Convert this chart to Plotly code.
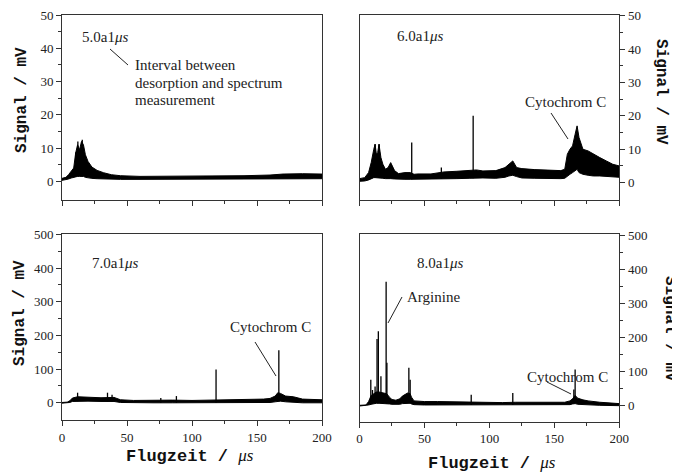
import numpy as np
import plotly.graph_objects as go

# page body has an 8px margin, so the figure is drawn 8px in from the window corner
OFF = 8
W, H = 680 - OFF, 476 - OFF

# ---------------- data ----------------
# Panel A: 5.0 µs delay (mV)
a_x = [0, 3, 5, 7, 9, 10.5, 12, 13.5, 15, 16.5, 18, 20, 23, 27, 32, 38, 45, 60, 80, 100, 120, 140, 160, 170, 185, 200]
a_up = [0.9, 1.2, 2, 3, 4, 8.5, 11, 9.5, 12, 11, 8, 6, 4.3, 3.3, 2.6, 2, 1.7, 1.5, 1.5, 1.5, 1.6, 1.7, 1.9, 2.2, 2.3, 2.2]
a_lo = [0.3, 0.5, 0.7, 1, 1.2, 1.5, 1.5, 1.5, 1.5, 1.5, 1.2, 1, 0.9, 0.8, 0.7, 0.6, 0.6, 0.6, 0.6, 0.6, 0.6, 0.7, 0.7, 0.8, 0.8, 0.8]
a_spk_x = [10.5, 12.2, 15.6]
a_spk_y = [8.7, 12, 12.5]

# Panel B: 6.0 µs delay (mV)
b_x = [0, 4, 7, 9, 11, 12, 13, 14, 15, 16.5, 18, 20, 22, 24, 27, 30, 35, 39, 42, 45, 55, 65, 75, 85, 90, 95,
       105, 112, 115, 118, 121, 125, 135, 145, 155, 158, 160, 162, 164, 166, 167.5, 169, 172, 176, 180, 185, 190, 195, 200]
b_up = [1.2, 1.5, 3, 6, 10, 11.5, 8.5, 9, 11.5, 7.5, 5.5, 4, 4.5, 6, 3.6, 2.7, 3, 3, 2.5, 2.6, 2.6, 3.2, 3.4, 3.8, 3.8, 3.5,
        3.6, 4.5, 5.5, 6.5, 4.5, 4.2, 3.9, 3.7, 3.6, 4, 8.5, 10, 11, 14.5, 17, 13.5, 10, 9.5, 8.5, 7.5, 6.5, 5.5, 5]
b_lo = [0.4, 0.5, 0.8, 1.2, 1.5, 1.5, 1.5, 1.5, 1.5, 1.5, 1.3, 1.2, 1.1, 1.2, 1.1, 1, 1, 1, 1, 1, 1, 1.1, 1.2, 1.3, 1.4, 1.4,
        1.3, 1.6, 2, 2.2, 1.8, 1.4, 1.3, 1.2, 1.2, 1.3, 2, 2.5, 3, 3.5, 4, 3, 2.5, 2.2, 2, 2, 1.8, 1.7, 1.6]
b_spk_x = [12.0, 15.2, 40.2, 63, 87.5]
b_spk_y = [11.5, 11.5, 12, 4.5, 20]

# Panel C: 7.0 µs delay (mV)
c_x = [0, 4, 6, 8, 12, 20, 30, 40, 45, 55, 70, 85, 100, 115, 125, 140, 155, 160, 164, 166, 168, 172, 178, 185, 200]
c_up = [1, 2, 6, 14, 18, 17, 15, 16, 9, 7, 8, 8, 7, 8, 8, 9, 11, 13, 20, 30, 28, 20, 18, 11, 9]
c_lo = [-1, 0, 1, 4, 5, 5, 4, 4, 1, 0, 0, 0, 0, 0, 0, 0, 0, 1, 3, 5, 5, 3, 2, 0, 0]
c_spk_x = [12, 35, 38.5, 76, 88, 118.5, 166.8]
c_spk_y = [30, 30, 24, 14, 20, 99, 156]

# Panel D: 8.0 µs delay (mV)
d_x = [0, 5, 7, 9, 11, 13, 15, 17, 19, 21, 23, 25, 28, 31, 33, 35, 37, 39, 40, 42, 50, 60, 70, 80, 90, 100,
       110, 120, 130, 140, 150, 158, 162, 164, 166, 168, 172, 176, 185, 200]
d_up = [1, 2, 12, 30, 35, 40, 40, 38, 37, 35, 25, 18, 16, 20, 28, 32, 37, 35, 25, 14, 12, 12, 11, 11, 10, 10,
        9, 10, 10, 10, 9, 10, 14, 20, 30, 22, 17, 14, 10, 6]
d_lo = [-1, 0, 2, 4, 6, 7, 7, 7, 6, 6, 5, 4, 3, 4, 6, 7, 8, 7, 5, 3, 2, 2, 2, 2, 2, 2,
        2, 2, 2, 2, 2, 2, 3, 5, 6, 4, 3, 2, 1, 0]
d_spk_x = [8.7, 10, 12, 13.5, 14.5, 16.5, 18, 20.5, 21.1, 38, 39, 86, 118, 165, 166]
d_spk_y = [76, 46, 56, 195, 218, 86, 37, 363, 126, 111, 76, 32, 37, 47, 106]

x_ticks = [0, 50, 100, 150, 200]
y_ticks_top = [0, 10, 20, 30, 40, 50]
y_ticks_bot = [0, 100, 200, 300, 400, 500]

# ---------------- figure ----------------
fig = go.Figure()

def px_x(p):
    return (p - OFF) / W

def px_y(p):
    return 1 - (p - OFF) / H

panels = [
    (a_x, a_up, a_lo, a_spk_x, a_spk_y, "x", "y"),
    (b_x, b_up, b_lo, b_spk_x, b_spk_y, "x2", "y2"),
    (c_x, c_up, c_lo, c_spk_x, c_spk_y, "x3", "y3"),
    (d_x, d_up, d_lo, d_spk_x, d_spk_y, "x4", "y4"),
]

for xs, up, lo, sx, sy, xa, ya in panels:
    fig.add_trace(go.Scatter(x=xs, y=lo, mode="lines", line=dict(color="black", width=1),
                             xaxis=xa, yaxis=ya, showlegend=False, hoverinfo="skip"))
    fig.add_trace(go.Scatter(x=xs, y=up, mode="lines", line=dict(color="black", width=1),
                             fill="tonexty", fillcolor="black",
                             xaxis=xa, yaxis=ya, showlegend=False, hoverinfo="skip"))
    base = np.interp(sx, xs, lo)
    seg_x, seg_y = [], []
    for xv, b0, yv in zip(sx, base, sy):
        seg_x += [xv, xv, None]
        seg_y += [float(b0), yv, None]
    fig.add_trace(go.Scatter(x=seg_x, y=seg_y, mode="lines", line=dict(color="black", width=1.3),
                             xaxis=xa, yaxis=ya, showlegend=False, hoverinfo="skip"))

tickfont = dict(family="Liberation Serif", size=13, color="#222")
axis_common = dict(showline=True, mirror=True, linecolor="#333", linewidth=1, showgrid=False,
                   zeroline=False, ticks="outside", tickcolor="#333", ticklen=5, tickfont=tickfont,
                   automargin=False, ticklabeloverflow="allow")

def xax(dom, anchor, labels):
    return dict(axis_common, domain=dom, range=[0, 200], tickvals=x_ticks, anchor=anchor,
                showticklabels=labels,
                minor=dict(ticks="outside", tickvals=[25, 75, 125, 175], ticklen=3, tickcolor="#333"))

def yax(dom, anchor, rng, vals, minor_vals, side):
    return dict(axis_common, domain=dom, range=rng, tickvals=vals, anchor=anchor, side=side,
                minor=dict(ticks="outside", tickvals=minor_vals, ticklen=3, tickcolor="#333"))

left_dom = [px_x(62), px_x(322)]
right_dom = [px_x(359.5), px_x(619.3)]
top_dom = [px_y(200), px_y(15)]
bot_dom_l = [px_y(420), px_y(234.3)]
bot_dom_r = [px_y(421.7), px_y(234)]

minor_top = [5, 15, 25, 35, 45]
minor_bot = [50, 150, 250, 350, 450]

fig.update_layout(
    template="none",
    width=W, height=H, margin=dict(l=0, r=0, t=0, b=0, autoexpand=False),
    paper_bgcolor="white", plot_bgcolor="white",
    xaxis=xax(left_dom, "y", False),
    yaxis=yax(top_dom, "x", [-5.6, 50], y_ticks_top, minor_top, "left"),
    xaxis2=xax(right_dom, "y2", False),
    yaxis2=yax(top_dom, "x2", [-5.2, 50.2], y_ticks_top, minor_top, "right"),
    xaxis3=xax(left_dom, "y3", True),
    yaxis3=yax(bot_dom_l, "x3", [-51, 500], y_ticks_bot, minor_bot, "left"),
    xaxis4=xax(right_dom, "y4", True),
    yaxis4=yax(bot_dom_r, "x4", [-47, 503], y_ticks_bot, minor_bot, "right"),
)

serif = "Liberation Serif"
mono = "Liberation Mono"

def txt(text, x, y, size=15, xanchor="left", family=serif, angle=0, color="#222"):
    fig.add_annotation(text=text, x=px_x(x), y=px_y(y), xref="paper", yref="paper",
                       showarrow=False, xanchor=xanchor, yanchor="middle", textangle=angle,
                       font=dict(family=family, size=size, color=color))

def line(x0, y0, x1, y1):
    fig.add_shape(type="line", xref="paper", yref="paper", x0=px_x(x0), y0=px_y(y0),
                  x1=px_x(x1), y1=px_y(y1), line=dict(color="#222", width=1))

# panel texts
txt("5.0a1<i>μs</i>", 80, 37)
line(110, 49, 128, 65)
txt("Interval between", 133, 65)
txt("desorption and spectrum", 133, 83)
txt("measurement", 133, 100)

txt("6.0a1<i>μs</i>", 395, 36)
txt("Cytochrom C", 523, 102)
line(551, 113, 568, 139)

txt("7.0a1<i>μs</i>", 90, 263)
txt("Cytochrom C", 228, 327)
line(255, 342, 276, 376)

txt("8.0a1<i>μs</i>", 415, 263)
txt("Arginine", 405, 297)
line(402, 297, 388, 323)
txt("Cytochrom C", 525, 377)
line(547, 382, 571, 394)

# axis titles
ylab = "<b>Signal / mV</b>"
txt(ylab, 22, 100, size=16, xanchor="center", family=mono, angle=-90, color="#111")
txt(ylab, 20, 313, size=16, xanchor="center", family=mono, angle=-90, color="#111")
txt(ylab, 661, 92, size=16, xanchor="center", family=mono, angle=90, color="#111")
txt(ylab, 670, 329, size=16, xanchor="center", family=mono, angle=90, color="#111")

xlab = "<b>Flugzeit / </b><span style='font-family:Liberation Serif'><i>μs</i></span>"
txt(xlab, 190, 456, size=17, xanchor="center", family=mono, color="#111")
txt(xlab, 492, 463, size=17, xanchor="center", family=mono, color="#111")

fig.write_html("out.html")
